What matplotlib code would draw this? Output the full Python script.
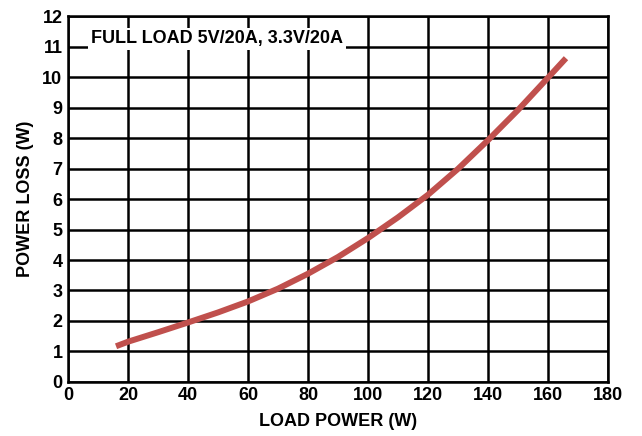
import numpy as np
import matplotlib
matplotlib.use("Agg")
import matplotlib.pyplot as plt

# load power (W) vs power loss (W)
load_power = [16, 20, 30, 40, 50, 60, 70, 80, 90, 100, 110, 120, 130, 140, 150, 160, 166]
power_loss = [1.17, 1.32, 1.63, 1.95, 2.28, 2.64, 3.06, 3.55, 4.10, 4.72, 5.40, 6.14, 6.99, 7.93, 8.92, 9.98, 10.62]

x_ticks = list(range(0, 181, 20))
y_ticks = list(range(0, 13))

plt.rcParams['font.family'] = ['Liberation Sans', 'DejaVu Sans']
plt.rcParams['font.weight'] = 'bold'

fig = plt.figure(figsize=(6.42, 4.36), dpi=100)
ax = fig.add_axes([0.106, 0.124, 0.841, 0.839])

ax.plot(load_power, power_loss, color='#c0504d', lw=4.3, solid_capstyle='butt', zorder=3)

ax.set_xlim(0, 180)
ax.set_ylim(0, 12)
ax.set_xticks(x_ticks)
ax.set_yticks(y_ticks)
ax.tick_params(length=0, labelsize=13, pad=4)
for lab in ax.get_xticklabels() + ax.get_yticklabels():
    lab.set_fontweight('bold')
ax.grid(True, color='black', lw=1.8)
for s in ax.spines.values():
    s.set_color('black')
    s.set_linewidth(1.8)

ax.set_xlabel("LOAD POWER (W)", fontsize=13, fontweight='bold', labelpad=6)
ax.set_ylabel("POWER LOSS (W)", fontsize=13, fontweight='bold', labelpad=6)

ax.text(7.6, 11.25, "FULL LOAD 5V/20A, 3.3V/20A", fontsize=13, fontweight='bold',
        va='center', ha='left', zorder=4,
        bbox=dict(facecolor='white', edgecolor='none', pad=2.0))

fig.savefig("out.png", dpi=100)
